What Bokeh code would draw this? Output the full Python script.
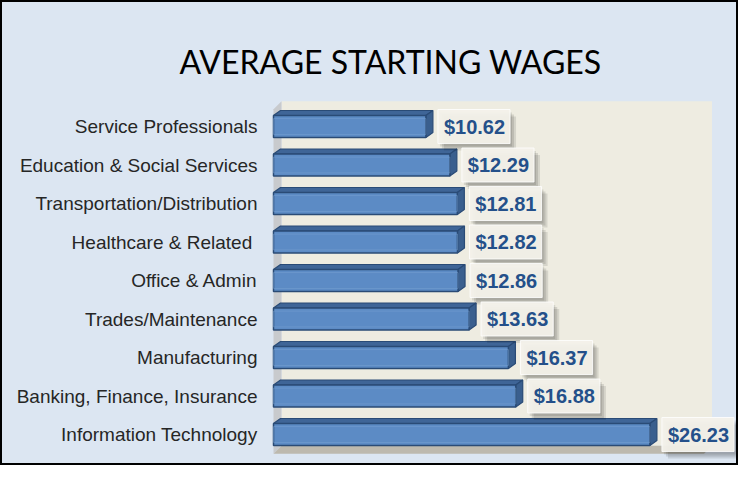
from bokeh.plotting import figure
from bokeh.models import Range1d, ColumnDataSource, Label
from bokeh.core.properties import value
from bokeh.embed import file_html
from bokeh.resources import INLINE

# ---------------- data ----------------
categories = [
    "Service Professionals",
    "Education & Social Services",
    "Transportation/Distribution",
    "Healthcare & Related ",
    "Office & Admin",
    "Trades/Maintenance",
    "Manufacturing",
    "Banking, Finance, Insurance",
    "Information Technology",
]
wages = [10.62, 12.29, 12.81, 12.82, 12.86, 13.63, 16.37, 16.88, 26.23]
value_labels = ["$%.2f" % w for w in wages]
title_text = "AVERAGE STARTING WAGES"
x_max = 30

# ---------------- geometry ----------------
W, H = 738, 465
PX_X = 14.35      # pixels per dollar
PX_Y = 38.5       # pixels per category
X0 = 273          # canvas px of x = 0
Y_BOTTOM = 31     # canvas px (from bottom) of last category centre

x_start = -X0 / PX_X
x_end = x_start + W / PX_X
y_start = -Y_BOTTOM / PX_Y
y_end = y_start + H / PX_Y

n = len(categories)
pos = [n - 1 - i for i in range(n)]

wdx, wdy = 8 / PX_X, 8 / PX_Y      # wall depth
bdx, bdy = 7 / PX_X, 5 / PX_Y      # bar depth
bh = 22 / PX_Y                     # bar front height

p = figure(width=W, height=H, output_backend="svg", toolbar_location=None,
           x_range=Range1d(x_start, x_end), y_range=Range1d(y_start, y_end),
           x_axis_location=None, y_axis_location=None,
           min_border=0, min_border_left=0, min_border_right=0,
           min_border_top=0, min_border_bottom=0)
p.xgrid.grid_line_color = None
p.ygrid.grid_line_color = None
p.background_fill_color = "#dce6f2"
p.border_fill_color = "#dce6f2"
p.outline_line_color = "black"
p.outline_line_width = 3

# ---------------- 3D walls ----------------
wall_top = n - 0.55 + wdy
p.quad(left=[wdx], right=[x_max + wdx], bottom=[-0.5 + wdy], top=[wall_top],
       fill_color="#eeece1", line_color=None)
p.patch([0, wdx, wdx, 0], [-0.5, -0.5 + wdy, wall_top, wall_top - wdy],
        fill_color="#c8cacd", line_color=None)
p.patch([0, x_max, x_max + wdx, wdx], [-0.5, -0.5, -0.5 + wdy, -0.5 + wdy],
        fill_color="#bdb9ae", line_color=None)

# ---------------- bars ----------------
top_xs, top_ys, side_xs, side_ys = [], [], [], []
for v, y in zip(wages, pos):
    t = y + bh / 2
    b = y - bh / 2
    top_xs.append([0, v, v + bdx, bdx])
    top_ys.append([t, t, t + bdy, t + bdy])
    side_xs.append([v, v + bdx, v + bdx, v])
    side_ys.append([b, b + bdy, t + bdy, t])

p.patches(top_xs, top_ys, fill_color="#3f6597", line_color="#2a4b76", line_width=1.2)
p.patches(side_xs, side_ys, fill_color="#3a5f8e", line_color="#2a4b76", line_width=1.2)
p.hbar(y=pos, left=0, right=wages, height=bh, fill_color="#5c8bc5",
       line_color="#2a4b76", line_width=1.5)
p.hbar(y=pos, left=0, right=wages, height=bh * 0.72, fill_color=None,
       line_color="#7aa3d4", line_alpha=0.5, line_width=1)

# ---------------- value labels ----------------
pad = dict(left=6, right=5, top=6, bottom=6)
src = ColumnDataSource(dict(x=wages, y=pos, text=value_labels))
for d, a in [(2, 0.10), (4, 0.11), (6, 0.10)]:
    p.text(x="x", y="y", text="text", source=src, x_offset=12 + d, y_offset=d + 1,
           text_alpha=0, text_font=value("Liberation Sans"), text_font_style="bold",
           text_font_size="20px", text_baseline="middle", text_align="left",
           background_fill_color="black", background_fill_alpha=a, padding=pad)
p.text(x="x", y="y", text="text", source=src, x_offset=12,
       text_color="#24508a", text_font=value("Liberation Sans"), text_font_style="bold",
       text_font_size="20px", text_baseline="middle", text_align="left",
       background_fill_color="#f3f1ea", background_fill_alpha=0.95,
       border_line_color="white", border_line_alpha=0.8, padding=pad)

# ---------------- category labels ----------------
p.text(x=[0] * n, y=pos, text=categories, x_offset=-16,
       text_color="#262626", text_font=value("Liberation Sans"),
       text_font_size="19px", text_baseline="middle", text_align="right")

# ---------------- title ----------------
title_x = (390 - X0) / PX_X
title_y = y_start + (H - 61) / PX_Y
p.add_layout(Label(x=title_x, y=title_y, text=title_text, text_align="center",
                   text_baseline="alphabetic", text_font="Lato",
                   text_font_size="32px", text_color="black"))

open("out.html", "w").write(file_html(p, INLINE))
